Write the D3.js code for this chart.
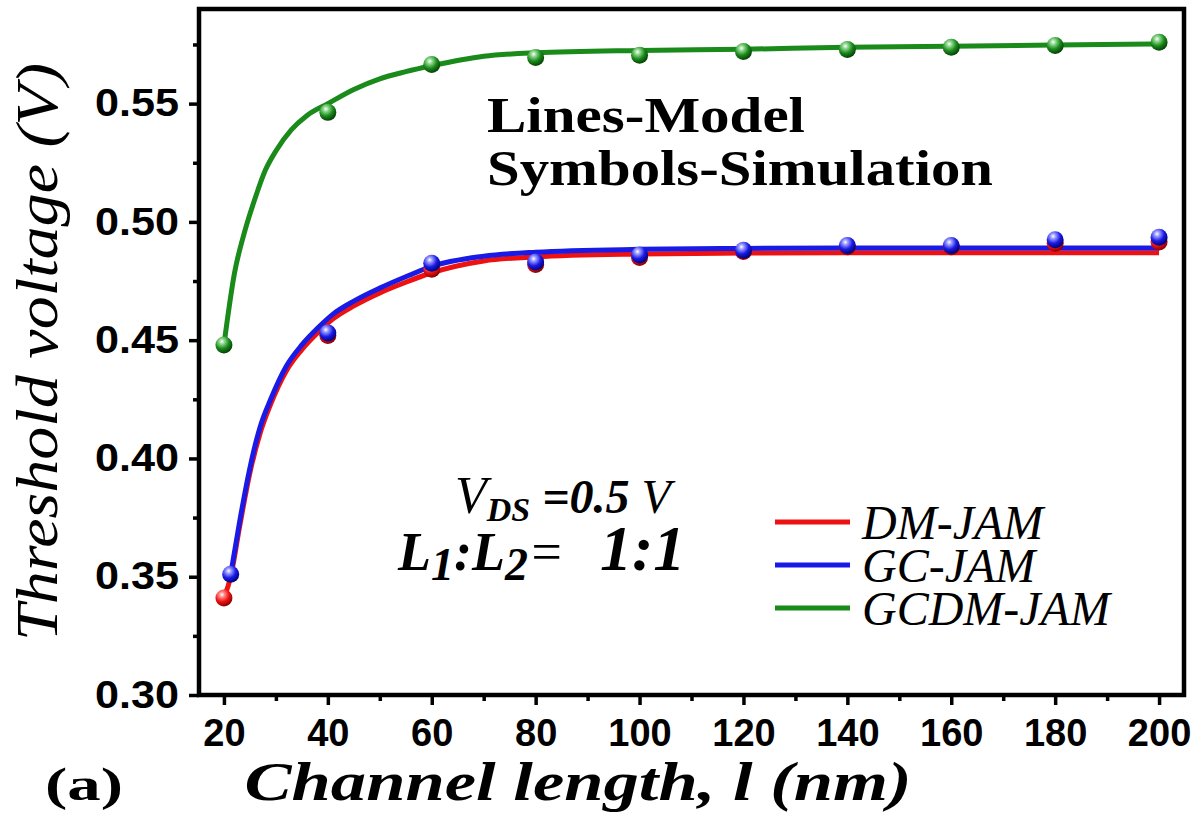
<!DOCTYPE html>
<html>
<head>
<meta charset="utf-8">
<script src="https://cdn.jsdelivr.net/npm/d3@7"></script>
<style>
  html, body { margin: 0; padding: 0; background: #fff; }
  svg { display: block; }
</style>
</head>
<body>
<svg id="chart" width="1203" height="821"></svg>
<script>
// Simulation points (symbols)
const simL = [20, 40, 60, 80, 100, 120, 140, 160, 180, 200];
const simLGC = [21.3, 40, 60, 80, 100, 120, 140, 160, 180, 200];
const simDM = [0.341, 0.452, 0.480, 0.482, 0.485, 0.4875, 0.4895, 0.4895, 0.491, 0.4915];
const simGC = [0.351, 0.453, 0.4825, 0.483, 0.486, 0.488, 0.490, 0.490, 0.4925, 0.4935];
const simGCDM = [0.448, 0.5463, 0.5665, 0.5695, 0.5704, 0.572, 0.5729, 0.5738, 0.5746, 0.5759];

// Model curves (lines)
const modelLDM = [20, 21.3, 23, 25, 27, 29, 32, 35, 38, 41, 45, 50, 55, 60, 70, 80, 100, 120, 140, 160, 180, 200];
const modelDM = [0.341, 0.350, 0.371, 0.394, 0.411, 0.423, 0.437, 0.446, 0.453, 0.459, 0.4645, 0.470, 0.4745, 0.4785, 0.4835, 0.4852, 0.4864, 0.4868, 0.487, 0.487, 0.487, 0.487];
const modelLGC = [21.3, 23, 25, 27, 29, 32, 35, 38, 41, 45, 50, 55, 60, 70, 80, 100, 120, 140, 160, 180, 200];
const modelGC = [0.351, 0.373, 0.396, 0.4135, 0.425, 0.439, 0.448, 0.455, 0.461, 0.4665, 0.472, 0.4768, 0.4812, 0.4855, 0.4872, 0.4884, 0.4888, 0.489, 0.489, 0.489, 0.489];
const modelLGCDM = [20, 22, 24, 26, 28, 30, 33, 36, 40, 45, 50, 55, 60, 70, 80, 100, 120, 140, 160, 180, 200];
const modelGCDM = [0.448, 0.478, 0.496, 0.510, 0.522, 0.530, 0.539, 0.545, 0.550, 0.556, 0.5605, 0.5635, 0.566, 0.570, 0.5715, 0.5725, 0.573, 0.5738, 0.5743, 0.5748, 0.5752];

const xTicks = [20, 40, 60, 80, 100, 120, 140, 160, 180, 200];
const xMinor = [30, 50, 70, 90, 110, 130, 150, 170, 190];
const yTicks = [0.30, 0.35, 0.40, 0.45, 0.50, 0.55];
const yMinor = [0.325, 0.375, 0.425, 0.475, 0.525, 0.575];

const seriesNames = ["DM-JAM", "GC-JAM", "GCDM-JAM"];
const seriesColors = ["#ee1111", "#1a1ae6", "#1a8a1a"];

const svg = d3.select("#chart");
const plotLeft = 199, plotRight = 1184, plotTop = 9, plotBottom = 695;

const x = d3.scaleLinear().domain([15.2, 204.8]).range([plotLeft, plotRight]);
const y = d3.scaleLinear().domain([0.30, 0.59]).range([plotBottom, plotTop]);

// Sphere-shaded marker gradients
const defs = svg.append("defs");
const shades = [
  {id: "ballRed", light: "#ff8a8a", base: "#ee1111", dark: "#8a0000"},
  {id: "ballBlue", light: "#9a9aff", base: "#1a1ae6", dark: "#00007a"},
  {id: "ballGreen", light: "#8fd88f", base: "#1a8a1a", dark: "#064006"}
];
shades.forEach(s => {
  const g = defs.append("radialGradient").attr("id", s.id)
    .attr("cx", "38%").attr("cy", "30%").attr("r", "70%");
  g.append("stop").attr("offset", "0%").attr("stop-color", "#ffffff");
  g.append("stop").attr("offset", "22%").attr("stop-color", s.light);
  g.append("stop").attr("offset", "60%").attr("stop-color", s.base);
  g.append("stop").attr("offset", "100%").attr("stop-color", s.dark);
});

const plot = svg.append("g");

// Model lines
const line = d3.line().x(d => x(d[0])).y(d => y(d[1])).curve(d3.curveMonotoneX);
const models = [
  {L: modelLDM, V: modelDM, color: seriesColors[0]},
  {L: modelLGC, V: modelGC, color: seriesColors[1]},
  {L: modelLGCDM, V: modelGCDM, color: seriesColors[2]}
];
models.forEach(m => {
  plot.append("path")
    .datum(m.L.map((l, i) => [l, m.V[i]]))
    .attr("d", line)
    .attr("fill", "none")
    .attr("stroke", m.color)
    .attr("stroke-width", 5)
    .attr("stroke-linejoin", "round");
});

// Simulation symbols
const sims = [
  {L: simL, V: simDM, grad: "ballRed"},
  {L: simLGC, V: simGC, grad: "ballBlue"},
  {L: simL, V: simGCDM, grad: "ballGreen"}
];
sims.forEach(s => {
  plot.selectAll(null)
    .data(s.L.map((l, i) => [l, s.V[i]]))
    .join("circle")
    .attr("cx", d => x(d[0]))
    .attr("cy", d => y(d[1]))
    .attr("r", 8.5)
    .attr("fill", `url(#${s.grad})`);
});

// Axes
const axisX = d3.axisBottom(x).tickValues(xTicks).tickSize(10).tickPadding(14).tickFormat(d3.format("d"));
const axisY = d3.axisLeft(y).tickValues(yTicks).tickSize(10).tickPadding(10).tickFormat(d3.format(".2f"));
const gx = svg.append("g").attr("transform", `translate(0,${plotBottom})`).call(axisX);
const gy = svg.append("g").attr("transform", `translate(${plotLeft},0)`).call(axisY);
const gxm = svg.append("g").attr("transform", `translate(0,${plotBottom})`)
  .call(d3.axisBottom(x).tickValues(xMinor).tickSize(6).tickFormat(""));
const gym = svg.append("g").attr("transform", `translate(${plotLeft},0)`)
  .call(d3.axisLeft(y).tickValues(yMinor).tickSize(6).tickFormat(""));
[gx, gy, gxm, gym].forEach(g => {
  g.select(".domain").remove();
  g.selectAll(".tick line").attr("stroke", "#000").attr("stroke-width", 3.5);
});
[gx, gy].forEach(g => g.selectAll(".tick text")
  .attr("fill", "#000")
  .attr("font-family", "'Liberation Sans', Arial, sans-serif")
  .attr("font-weight", "bold")
  .attr("font-size", 38));
gy.selectAll(".tick text")
  .attr("textLength", 84).attr("lengthAdjust", "spacingAndGlyphs");

// Frame
svg.append("rect")
  .attr("x", plotLeft).attr("y", plotTop)
  .attr("width", plotRight - plotLeft).attr("height", plotBottom - plotTop)
  .attr("fill", "none").attr("stroke", "#000").attr("stroke-width", 4.5);

// Axis titles
const serif = "'Liberation Serif', 'Times New Roman', serif";
svg.append("text")
  .attr("transform", `translate(57,352) rotate(-90)`)
  .attr("text-anchor", "middle")
  .attr("font-family", serif)
  .attr("font-style", "italic")
  .attr("font-size", 60)
  .attr("textLength", 578).attr("lengthAdjust", "spacingAndGlyphs")
  .text("Threshold voltage (V)");

svg.append("text")
  .attr("x", 578).attr("y", 800)
  .attr("text-anchor", "middle")
  .attr("font-family", serif)
  .attr("font-style", "italic").attr("font-weight", "bold")
  .attr("font-size", 54)
  .attr("textLength", 667).attr("lengthAdjust", "spacingAndGlyphs")
  .text("Channel length, l (nm)");

svg.append("text")
  .attr("x", 45).attr("y", 800)
  .attr("font-family", serif)
  .attr("font-weight", "bold").attr("font-size", 46)
  .attr("textLength", 78).attr("lengthAdjust", "spacingAndGlyphs")
  .text("(a)");

// Annotation
svg.append("text").attr("x", 487).attr("y", 132)
  .attr("font-family", serif).attr("font-weight", "bold").attr("font-size", 50)
  .attr("textLength", 318).attr("lengthAdjust", "spacingAndGlyphs")
  .text("Lines-Model");
svg.append("text").attr("x", 487).attr("y", 185)
  .attr("font-family", serif).attr("font-weight", "bold").attr("font-size", 50)
  .attr("textLength", 506).attr("lengthAdjust", "spacingAndGlyphs")
  .text("Symbols-Simulation");

const vds = svg.append("text").attr("x", 455).attr("y", 513)
  .attr("font-family", serif).attr("font-style", "italic").attr("font-weight", "bold").attr("font-size", 48);
vds.append("tspan").attr("font-weight", "normal").attr("font-size", 52).text("V");
vds.append("tspan").attr("font-size", 34).attr("dy", 8).text("DS");
vds.append("tspan").attr("dy", -8).text(" =0.5 ");
vds.append("tspan").attr("font-weight", "normal").text("V");

const ratio = svg.append("text").attr("x", 398).attr("y", 570)
  .attr("font-family", serif).attr("font-style", "italic").attr("font-weight", "bold").attr("font-size", 54);
ratio.append("tspan").text("L");
ratio.append("tspan").attr("font-size", 46).attr("dy", 10).text("1");
ratio.append("tspan").attr("dy", -10).text(":L");
ratio.append("tspan").attr("font-size", 46).attr("dy", 10).text("2");
ratio.append("tspan").attr("dy", -10).attr("font-weight", "normal").text("=");
ratio.append("tspan").attr("x", 600).attr("font-size", 64).text("1:1");

// Legend
const legend = svg.append("g");
seriesNames.forEach((name, i) => {
  const ly = 522 + i * 43;
  legend.append("line")
    .attr("x1", 775).attr("x2", 850).attr("y1", ly).attr("y2", ly)
    .attr("stroke", seriesColors[i]).attr("stroke-width", 5);
  legend.append("text")
    .attr("x", 862).attr("y", ly + 17)
    .attr("font-family", serif).attr("font-style", "italic")
    .attr("font-size", 48)
    .text(name);
});
</script>
</body>
</html>
